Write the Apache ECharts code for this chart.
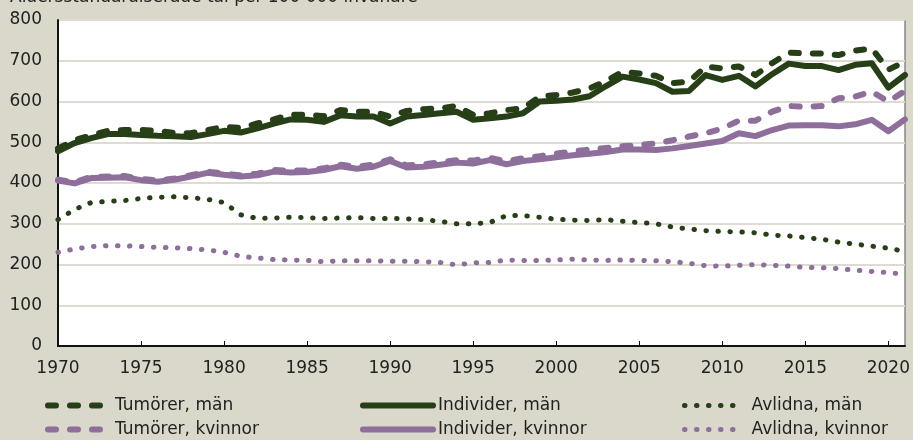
<!DOCTYPE html>
<html>
<head>
<meta charset="utf-8">
<script src="https://cdn.jsdelivr.net/npm/echarts@6/dist/echarts.min.js"></script>
<style>
  html, body { margin: 0; padding: 0; background: #dad8cb; }
  #chart { width: 913px; height: 440px; }
</style>
</head>
<body>
<div id="chart"></div>
<script>
var years = [];
for (var y = 1970; y <= 2021; y++) { years.push(String(y)); }

// Tumörer, män
var tumorerMan = [485, 505, 517, 528, 530, 530, 528, 523, 522, 530,
    538, 535, 546, 556, 568, 567, 564, 579, 575, 575,
    563, 577, 581, 583, 589, 567, 571, 579, 583, 612,
    616, 622, 632, 650, 673, 669, 663, 645, 649, 686,
    681, 686, 665, 694, 720, 718, 718, 714, 725, 730,
    678, 698];
// Individer, män
var individerMan = [478, 498, 510, 520, 520, 518, 516, 515, 513, 520,
    528, 524, 534, 546, 556, 555, 550, 566, 563, 563,
    546, 563, 567, 571, 575, 555, 559, 563, 571, 600,
    602, 605, 613, 638, 661, 654, 645, 624, 626, 665,
    653, 663, 637, 667, 693, 687, 687, 677, 690, 694,
    634, 665];
// Avlidna, män
var avlidnaMan = [310, 335, 352, 355, 357, 362, 365, 366, 364, 360,
    352, 322, 313, 314, 316, 315, 313, 314, 315, 313,
    313, 312, 310, 306, 300, 300, 303, 320, 320, 316,
    311, 309, 308, 310, 306, 303, 300, 292, 287, 283,
    281, 280, 278, 272, 270, 266, 262, 255, 250, 245,
    240, 232];
// Tumörer, kvinnor
var tumorerKvinnor = [408, 402, 415, 416, 417, 410, 406, 411, 419, 428,
    423, 419, 423, 432, 430, 431, 436, 445, 440, 445,
    458, 443, 446, 451, 456, 455, 462, 453, 461, 466,
    472, 478, 482, 486, 490, 493, 497, 505, 514, 522,
    534, 553, 553, 575, 589, 587, 589, 608, 612, 624,
    600, 626];
// Individer, kvinnor
var individerKvinnor = [406, 399, 412, 413, 414, 407, 403, 408, 416, 425,
    420, 416, 419, 428, 426, 427, 432, 441, 435, 440,
    454, 438, 440, 445, 450, 448, 456, 446, 454, 458,
    463, 468, 472, 476, 482, 482, 481, 485, 491, 497,
    503, 522, 515, 530, 541, 542, 542, 539, 544, 555,
    527, 556];
// Avlidna, kvinnor
var avlidnaKvinnor = [230, 238, 244, 246, 246, 244, 242, 241, 239, 236,
    230, 220, 216, 212, 211, 210, 207, 209, 209, 209,
    208, 208, 207, 205, 199, 204, 205, 211, 210, 210,
    211, 213, 211, 210, 211, 210, 209, 207, 203, 197,
    196, 198, 200, 198, 196, 193, 192, 190, 186, 183,
    180, 176];

var green = '#263f17';
var purple = '#8e6f9b';
var font = 'DejaVu Sans';

function dashOf(kind) {
    if (kind === 'dash') return [8, 14];
    if (kind === 'dot') return [0.5, 11.5];
    return 'solid';
}

function line(name, data, color, kind) {
    return {
        name: name,
        type: 'line',
        data: data,
        symbol: 'none',
        color: color,
        lineStyle: {
            color: color,
            width: kind === 'dot' ? 5 : 6,
            type: dashOf(kind),
            cap: 'round',
            join: 'round'
        },
        animation: false
    };
}

// en legend per post, placerad i tre kolumner x två rader
function legendItem(name, kind, left, top, iconWidth, textPad) {
    return {
        left: left,
        top: top,
        padding: 0,
        itemWidth: iconWidth,
        itemHeight: 14,
        itemStyle: { opacity: 0 },
        lineStyle: {
            width: kind === 'dot' ? 5 : 6,
            type: dashOf(kind),
            cap: 'round'
        },
        textStyle: {
            fontFamily: font,
            fontSize: 17,
            color: '#222',
            padding: [0, 0, 0, textPad]
        },
        data: [name]
    };
}

var myChart = echarts.init(document.getElementById('chart'));

var option = {
    backgroundColor: '#dad8cb',
    textStyle: { fontFamily: font },
    graphic: [{
        type: 'text',
        left: 10,
        top: -11,
        style: {
            text: 'Åldersstandardiserade tal per 100 000 invånare',
            fontFamily: font,
            fontSize: 17,
            fill: '#222'
        }
    }],
    grid: {
        left: 58,
        top: 20,
        right: 5,
        bottom: 94,
        show: true,
        backgroundColor: '#fff',
        borderColor: '#555',
        borderWidth: 1
    },
    legend: [
        legendItem('Tumörer, män', 'dash', 45, 397, 52, 10),
        legendItem('Tumörer, kvinnor', 'dash', 45, 421, 52, 10),
        legendItem('Individer, män', 'solid', 360, 397, 70, 0),
        legendItem('Individer, kvinnor', 'solid', 360, 421, 70, 0),
        legendItem('Avlidna, män', 'dot', 682, 397, 58, 4),
        legendItem('Avlidna, kvinnor', 'dot', 682, 421, 58, 4)
    ],
    xAxis: {
        type: 'category',
        data: years,
        boundaryGap: false,
        axisLine: { lineStyle: { color: '#111', width: 2 } },
        axisTick: { inside: true, length: 5, interval: 4, lineStyle: { color: '#111' } },
        axisLabel: { interval: 4, color: '#222', fontSize: 17, fontFamily: font, margin: 14 },
        splitLine: { show: false }
    },
    yAxis: {
        type: 'value',
        min: 0,
        max: 800,
        interval: 100,
        axisLine: { show: true, lineStyle: { color: '#111', width: 2 } },
        axisTick: { show: false },
        axisLabel: { color: '#222', fontSize: 17, fontFamily: font, margin: 16 },
        splitLine: { lineStyle: { color: '#dedcd2', width: 2 } }
    },
    series: [
        line('Individer, kvinnor', individerKvinnor, purple, 'solid'),
        line('Tumörer, kvinnor', tumorerKvinnor, purple, 'dash'),
        line('Avlidna, kvinnor', avlidnaKvinnor, purple, 'dot'),
        line('Individer, män', individerMan, green, 'solid'),
        line('Tumörer, män', tumorerMan, green, 'dash'),
        line('Avlidna, män', avlidnaMan, green, 'dot')
    ]
};

myChart.setOption(option);
</script>
</body>
</html>
